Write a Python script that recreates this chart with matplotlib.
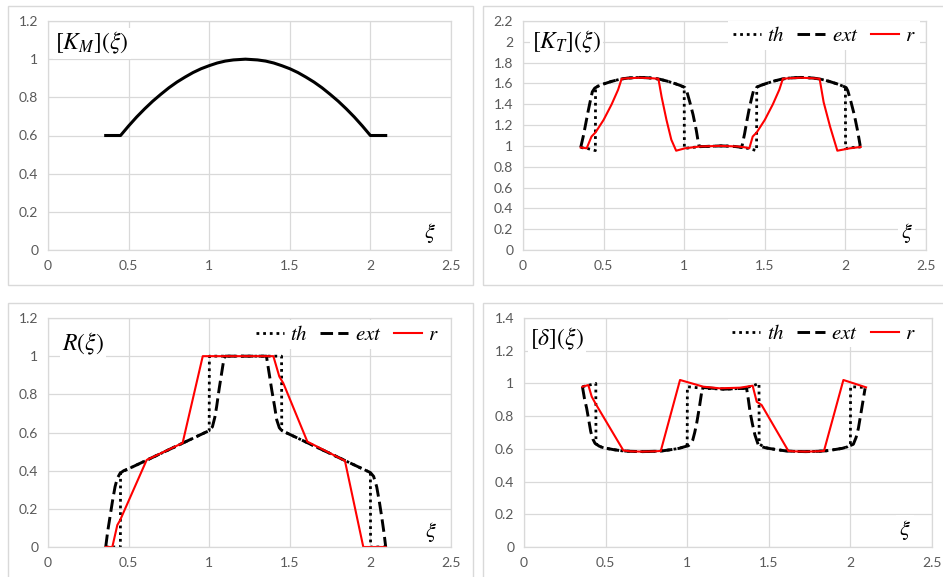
import numpy as np
import matplotlib.pyplot as plt
from matplotlib.patches import Rectangle

plt.rcParams['font.family'] = ['Lato', 'DejaVu Sans']
plt.rcParams['mathtext.fontset'] = 'stix'

# [K_M](xi)
km_x = [0.358, 0.45, 0.50, 0.55, 0.60, 0.65, 0.70, 0.75, 0.80, 0.85, 0.90, 0.95, 1.00, 1.05,
        1.10, 1.15, 1.225, 1.30, 1.35, 1.40, 1.45, 1.50, 1.55, 1.60, 1.65, 1.70, 1.75, 1.80,
        1.85, 1.90, 1.95, 2.00, 2.095]
km_y = [0.60, 0.60, 0.65, 0.697, 0.74, 0.78, 0.816, 0.85, 0.88, 0.906, 0.93, 0.95, 0.966, 0.98,
        0.99, 0.996, 1.00, 0.996, 0.99, 0.98, 0.966, 0.95, 0.93, 0.906, 0.88, 0.85, 0.816, 0.78,
        0.74, 0.697, 0.65, 0.60, 0.60]

# [K_T](xi)
kt_th_x = [0.358, 0.40, 0.449, 0.45, 0.50, 0.55, 0.60, 0.65, 0.725, 0.80, 0.85, 0.90, 0.95, 1.00,
           1.001, 1.05, 1.10, 1.225, 1.30, 1.36, 1.40, 1.449, 1.45, 1.50, 1.55, 1.60, 1.65,
           1.725, 1.80, 1.85, 1.90, 1.95, 2.00, 2.001, 2.05, 2.095]
kt_th_y = [0.985, 0.975, 0.955, 1.565, 1.595, 1.62, 1.64, 1.652, 1.658, 1.652, 1.64, 1.62, 1.595,
           1.565, 0.975, 0.985, 0.993, 1.0, 0.997, 0.985, 0.975, 0.955, 1.565, 1.595, 1.62, 1.64,
           1.652, 1.658, 1.652, 1.64, 1.62, 1.595, 1.565, 0.975, 0.985, 0.99]
kt_ext_x = [0.358, 0.375, 0.39, 0.405, 0.42, 0.43, 0.445, 0.47, 0.50, 0.55, 0.60, 0.65, 0.725,
            0.80, 0.85, 0.90, 0.95, 0.98, 1.005, 1.015, 1.035, 1.055, 1.075, 1.09, 1.10, 1.225,
            1.30, 1.357, 1.375, 1.39, 1.405, 1.42, 1.43, 1.445, 1.47, 1.50, 1.55, 1.60, 1.65,
            1.725, 1.80, 1.85, 1.90, 1.95, 1.98, 2.005, 2.015, 2.035, 2.055, 2.075, 2.092]
kt_ext_y = [0.985, 1.10, 1.22, 1.34, 1.45, 1.52, 1.555, 1.578, 1.595, 1.62, 1.64, 1.652, 1.658,
            1.652, 1.64, 1.62, 1.595, 1.578, 1.56, 1.53, 1.42, 1.30, 1.15, 1.01, 0.993, 1.0,
            0.997, 0.986, 1.12, 1.25, 1.37, 1.47, 1.53, 1.56, 1.578, 1.595, 1.62, 1.64, 1.652,
            1.658, 1.652, 1.64, 1.62, 1.595, 1.578, 1.56, 1.53, 1.42, 1.30, 1.15, 1.0]
kt_r_x = [0.358, 0.395, 0.425, 0.45, 0.50, 0.55, 0.59, 0.612, 0.65, 0.725, 0.80, 0.84, 0.86,
          0.89, 0.92, 0.95, 1.005, 1.10, 1.225, 1.33, 1.377, 1.404, 1.425, 1.45, 1.50, 1.55,
          1.59, 1.612, 1.65, 1.725, 1.80, 1.84, 1.865, 1.905, 1.95, 2.028, 2.095]
kt_r_y = [0.985, 0.977, 1.09, 1.13, 1.25, 1.40, 1.54, 1.645, 1.65, 1.655, 1.65, 1.645, 1.47,
          1.25, 1.06, 0.954, 0.977, 0.995, 1.0, 0.995, 0.986, 0.977, 1.09, 1.13, 1.25, 1.40,
          1.54, 1.645, 1.65, 1.655, 1.65, 1.645, 1.42, 1.185, 0.954, 0.977, 0.99]

# R(xi)
r_th_x = [0.358, 0.449, 0.45, 1.00, 1.001, 1.449, 1.45, 2.00, 2.001, 2.095]
r_th_y = [0.0, 0.0, 0.39, 0.61, 1.0, 1.0, 0.61, 0.39, 0.0, 0.0]
r_ext_x = [0.358, 0.37, 0.385, 0.40, 0.416, 0.43, 0.447, 0.47, 0.50, 1.00, 1.02, 1.035, 1.046,
           1.062, 1.077, 1.092, 1.10, 1.355, 1.37, 1.388, 1.405, 1.419, 1.435, 1.45, 2.00,
           2.02, 2.039, 2.055, 2.07, 2.085, 2.095]
r_ext_y = [0.0, 0.08, 0.16, 0.24, 0.316, 0.36, 0.386, 0.40, 0.41, 0.61, 0.63, 0.68, 0.735,
           0.83, 0.91, 0.99, 1.0, 1.0, 0.92, 0.823, 0.74, 0.666, 0.625, 0.61, 0.39,
           0.37, 0.316, 0.24, 0.159, 0.07, 0.0]
r_r_x = [0.358, 0.399, 0.43, 0.447, 0.612, 0.835, 0.96, 1.398, 1.435, 1.46, 1.609, 1.842,
         1.956, 2.095]
r_r_y = [0.0, 0.0, 0.115, 0.14, 0.456, 0.545, 1.0, 1.0, 0.893, 0.858, 0.552, 0.452, 0.0, 0.0]

# [delta](xi)
d_th_x = [0.358, 0.40, 0.44, 0.441, 0.47, 0.50, 0.55, 0.60, 0.65, 0.725, 0.80, 0.85, 0.90,
          0.95, 0.98, 1.00, 1.001, 1.10, 1.225, 1.35, 1.40, 1.44, 1.441, 1.47, 1.50, 1.55,
          1.60, 1.65, 1.725, 1.80, 1.85, 1.90, 1.95, 1.98, 2.00, 2.001, 2.095]
d_th_y = [0.98, 0.99, 1.0, 0.63, 0.612, 0.603, 0.595, 0.588, 0.585, 0.583, 0.585, 0.588, 0.595,
          0.603, 0.612, 0.625, 0.98, 0.97, 0.965, 0.97, 0.985, 1.0, 0.63, 0.612, 0.603, 0.595,
          0.588, 0.585, 0.583, 0.585, 0.588, 0.595, 0.603, 0.612, 0.625, 0.98, 0.975]
d_ext_x = [0.358, 0.37, 0.384, 0.396, 0.409, 0.422, 0.435, 0.46, 0.486, 0.55, 0.60, 0.65, 0.725,
           0.80, 0.85, 0.90, 0.95, 0.98, 1.007, 1.022, 1.034, 1.046, 1.058, 1.074, 1.089, 1.10,
           1.225, 1.35, 1.364, 1.375, 1.385, 1.40, 1.415, 1.436, 1.46, 1.486, 1.55, 1.60, 1.65,
           1.725, 1.80, 1.85, 1.90, 1.95, 1.98, 2.018, 2.035, 2.049, 2.07, 2.09]
d_ext_y = [0.98, 0.91, 0.848, 0.78, 0.705, 0.66, 0.634, 0.617, 0.607, 0.595, 0.588, 0.585, 0.583,
           0.585, 0.588, 0.595, 0.603, 0.612, 0.619, 0.632, 0.654, 0.70, 0.756, 0.85, 0.949, 0.975,
           0.965, 0.97, 0.97, 0.90, 0.827, 0.75, 0.685, 0.623, 0.612, 0.605, 0.595, 0.588, 0.585,
           0.583, 0.585, 0.588, 0.595, 0.603, 0.612, 0.628, 0.67, 0.726, 0.85, 0.97]
d_r_x = [0.358, 0.394, 0.415, 0.441, 0.609, 0.65, 0.725, 0.80, 0.838, 0.956, 1.099, 1.20, 1.324,
         1.401, 1.426, 1.456, 1.62, 1.65, 1.725, 1.80, 1.838, 1.957, 2.096]
d_r_y = [0.98, 0.99, 0.919, 0.872, 0.59, 0.585, 0.583, 0.585, 0.587, 1.021, 0.98, 0.97, 0.974,
         0.986, 0.888, 0.868, 0.587, 0.585, 0.583, 0.585, 0.587, 1.021, 0.976]

W, H = 943, 577
GRID = '#d9d9d9'
TICK = '#595959'
RED = '#ff0000'

fig = plt.figure(figsize=(W / 100, H / 100), dpi=100)


def px_axes(left, top, right, bottom):
    return fig.add_axes([left / W, 1 - bottom / H, (right - left) / W, (bottom - top) / H])


# chart area borders
for l, t, r, b in [(8, 6, 473, 285), (483, 6, 960, 285), (8, 303, 473, 600), (483, 303, 960, 600)]:
    fig.patches.append(Rectangle((l / W, 1 - b / H), (r - l) / W, (b - t) / H,
                                 transform=fig.transFigure, fill=False,
                                 edgecolor=GRID, lw=1.0))


def setup(ax, ymax, ystep, title, tpos, xipos):
    ax.set_xlim(0, 2.5)
    ax.set_ylim(0, ymax)
    ax.set_xticks(np.arange(0, 2.51, 0.5))
    ax.set_yticks(np.arange(0, ymax + 1e-6, ystep))
    ax.set_xticklabels([f'{v:g}' for v in np.arange(0, 2.51, 0.5)])
    ax.set_yticklabels([f'{round(v, 1):g}' for v in np.arange(0, ymax + 1e-6, ystep)])
    ax.grid(True, color=GRID, lw=0.9)
    ax.set_axisbelow(True)
    for s in ax.spines.values():
        s.set_color(GRID)
        s.set_linewidth(0.9)
    ax.tick_params(length=0, labelsize=10, colors=TICK, pad=7)
    ax.text(tpos[0], tpos[1], title, transform=ax.transAxes, fontsize=17, va='top', ha='left',
            zorder=5, bbox=dict(facecolor='white', edgecolor='none', pad=1.5))
    ax.text(xipos[0], xipos[1], r'$\xi$', transform=ax.transAxes, fontsize=16, va='center',
            ha='center', zorder=5, bbox=dict(facecolor='white', edgecolor='none', pad=2))


def draw3(ax, thx, thy, exx, exy, rx, ry, leg_anchor):
    l1, = ax.plot(thx, thy, color='black', lw=2.0, linestyle=(0, (1, 1.4)))
    l2, = ax.plot(exx, exy, color='black', lw=2.1, linestyle=(0, (4.3, 1.8)))
    l3, = ax.plot(rx, ry, color=RED, lw=1.5)
    leg = ax.legend([l1, l2, l3], [r'$th$', r'$ext$', r'$r$'], loc='center right',
                    bbox_to_anchor=leg_anchor, ncol=3, fontsize=15, frameon=True,
                    framealpha=1, edgecolor='none', facecolor='white', fancybox=False,
                    handlelength=1.35, handletextpad=0.3, columnspacing=0.6,
                    borderpad=0.2, borderaxespad=0)
    leg.set_zorder(6)


ax1 = px_axes(48, 21, 451, 250)
setup(ax1, 1.2, 0.2, r'$[K_M](\xi)$', (0.017, 0.96), (0.948, 0.074))
ax1.plot(km_x, km_y, color='black', lw=2.2)

ax2 = px_axes(523, 21, 926, 250)
setup(ax2, 2.2, 0.2, r'$[K_T](\xi)$', (0.022, 0.965), (0.952, 0.074))
draw3(ax2, kt_th_x, kt_th_y, kt_ext_x, kt_ext_y, kt_r_x, kt_r_y, (0.985, 0.937))

ax3 = px_axes(48, 318, 451, 547)
setup(ax3, 1.2, 0.2, r'$R(\xi)$', (0.034, 0.945), (0.95, 0.067))
draw3(ax3, r_th_x, r_th_y, r_ext_x, r_ext_y, r_r_x, r_r_y, (0.98, 0.928))

ax4 = px_axes(524, 318, 932, 547)
setup(ax4, 1.4, 0.2, r'$[\delta](\xi)$', (0.015, 0.965), (0.934, 0.074))
draw3(ax4, d_th_x, d_th_y, d_ext_x, d_ext_y, d_r_x, d_r_y, (0.97, 0.934))

fig.savefig('out.png', dpi=100)
